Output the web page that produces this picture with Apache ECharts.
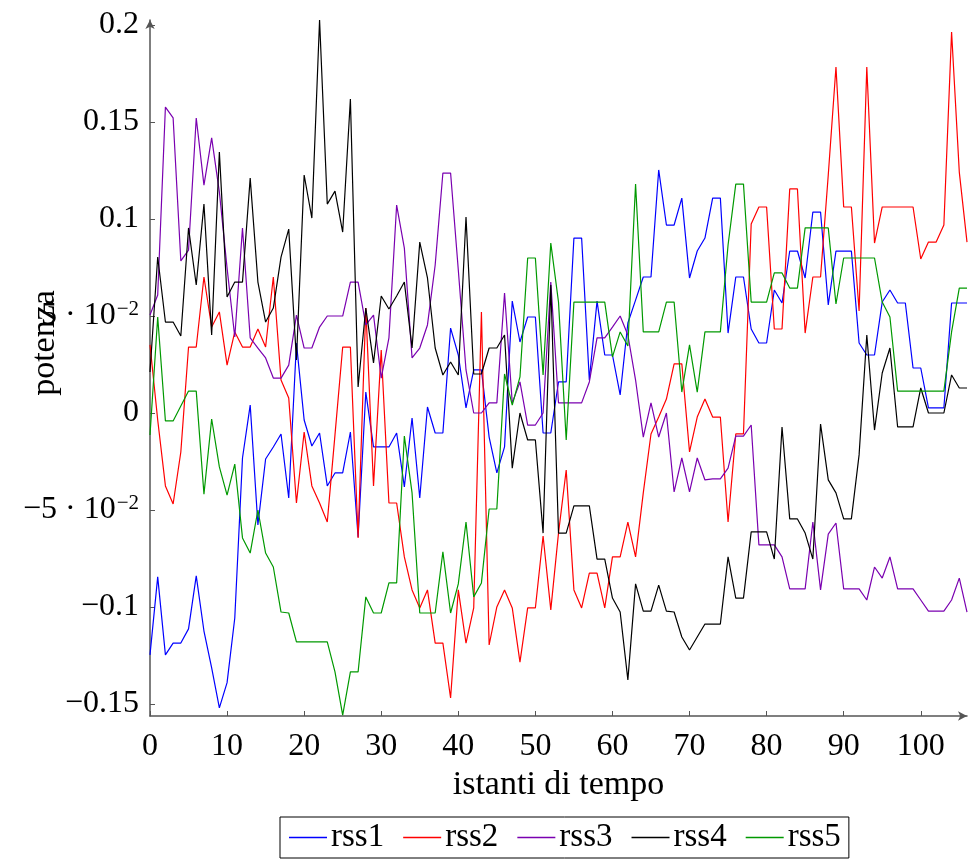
<!DOCTYPE html>
<html>
<head>
<meta charset="utf-8">
<script src="https://cdn.jsdelivr.net/npm/echarts@6/dist/echarts.min.js"></script>
<style>html,body{margin:0;padding:0;background:#fff}#c{width:971px;height:864px}</style>
</head>
<body>
<div id="c"></div>
<script>
const seriesNames = ['rss1', 'rss2', 'rss3', 'rss4', 'rss5'];
const xTicks = [0, 10, 20, 30, 40, 50, 60, 70, 80, 90, 100];
const yTicks = [-0.15, -0.1, -0.05, 0, 0.05, 0.1, 0.15, 0.2];
const xTitle = 'istanti di tempo';
const yTitle = 'potenza';

const rss1 = [-0.1247,-0.0845,-0.1247,-0.1186,-0.1186,-0.1113,-0.084,-0.1124,-0.1314,-0.152,
-0.139,-0.1057,-0.0232,0.0041,-0.0577,-0.0237,-0.0175,-0.0108,-0.0438,0.036,
-0.0036,-0.017,-0.0103,-0.0376,-0.0309,-0.0309,-0.0098,-0.0639,0.0108,-0.0175,
-0.0175,-0.0175,-0.0103,-0.0381,-0.0026,-0.0438,0.0031,-0.0103,-0.0103,0.0438,
0.0299,0.0026,0.0222,0.0222,-0.0124,-0.0309,-0.0175,0.0577,0.0366,0.0495,
0.0495,-0.0103,-0.0103,0.016,0.016,0.0902,0.0902,0.017,0.0577,0.0299,
0.0299,0.0093,0.0464,0.0582,0.0701,0.0701,0.1253,0.0969,0.0969,0.1108,
0.0696,0.0835,0.0902,0.1108,0.1108,0.0412,0.0701,0.0701,0.0433,0.0361,
0.0361,0.0634,0.0567,0.0835,0.0835,0.0696,0.1036,0.1036,0.0557,0.0835,
0.0835,0.0835,0.0361,0.0299,0.0299,0.0572,0.0634,0.0567,0.0567,0.0232,
0.0232,0.0026,0.0026,0.0026,0.0567,0.0567,0.0567];

const rss2 = [0.0351,-0.0036,-0.0376,-0.0469,-0.0201,0.034,0.034,0.0701,0.0443,0.0521,
0.0247,0.0418,0.034,0.034,0.0433,0.034,0.0701,0.017,0.0077,-0.0464,
-0.0098,-0.0376,-0.0464,-0.0562,-0.0113,0.034,0.034,-0.0644,0.0541,-0.0376,
0.0325,-0.0464,-0.0464,-0.0742,-0.0912,-0.1005,-0.0912,-0.1186,-0.1186,-0.1469,
-0.0912,-0.1186,-0.1005,0.0521,-0.1196,-0.1,-0.0912,-0.1005,-0.1284,-0.1005,
-0.1005,-0.0634,-0.1015,-0.0619,-0.0294,-0.0912,-0.1005,-0.0825,-0.0825,-0.1005,
-0.0742,-0.0742,-0.0562,-0.0742,-0.0412,-0.0108,-0.0021,0.0072,0.0253,0.0253,
-0.0201,-0.0021,0.0072,-0.0021,-0.0021,-0.0562,-0.0108,-0.0108,0.0974,0.1062,
0.1062,0.0433,0.0433,0.1155,0.1155,0.0412,0.0701,0.0701,0.1227,0.1784,
0.1062,0.1062,0.0526,0.1784,0.0876,0.1062,0.1062,0.1062,0.1062,0.1062,
0.0794,0.0881,0.0881,0.0969,0.1964,0.1242,0.0881];

const rss3 = [0.0505,0.0608,0.1577,0.1521,0.0784,0.084,0.1521,0.1175,0.1418,0.1139,
0.0747,0.0392,0.0954,0.0387,0.0335,0.0284,0.018,0.018,0.0247,0.0505,
0.0335,0.0335,0.0443,0.05,0.05,0.05,0.0675,0.0675,0.0454,0.0505,
0.018,0.0387,0.1072,0.085,0.0284,0.0335,0.0454,0.0763,0.1237,0.1237,
0.0737,0.0222,0,0,0.0052,0.0052,0.0619,0.0052,0.016,-0.0062,
-0.0062,0,0.0675,0.0052,0.0052,0.0052,0.0052,0.016,0.0387,0.0387,
0.0443,0.05,0.0402,0.017,-0.0124,0.0052,-0.0124,0,-0.0407,-0.0232,
-0.0407,-0.0232,-0.0345,-0.034,-0.034,-0.0284,-0.0119,-0.0119,-0.0062,-0.068,
-0.068,-0.068,-0.0742,-0.0907,-0.0907,-0.0907,-0.0562,-0.0912,-0.0624,-0.0567,
-0.0907,-0.0907,-0.0907,-0.0964,-0.0794,-0.0851,-0.0742,-0.0907,-0.0907,-0.0907,
-0.0964,-0.1021,-0.1021,-0.1021,-0.0964,-0.0851,-0.1026];

const rss4 = [0.0211,0.0804,0.0469,0.0469,0.0397,0.0954,0.066,0.1077,0.0402,0.1345,
0.0598,0.0675,0.0675,0.1211,0.0675,0.0469,0.0541,0.0804,0.0948,0.0273,
0.1227,0.1005,0.2026,0.1077,0.1144,0.0933,0.1619,0.0134,0.0541,0.0258,
0.0603,0.0536,0.0603,0.0675,0.0335,0.0881,0.0696,0.0335,0.0196,0.0263,
0.0196,0.101,0.0201,0.0201,0.0335,0.0335,0.0402,-0.0284,0,-0.0139,
-0.0139,-0.0619,0.066,-0.0619,-0.0619,-0.0479,-0.0479,-0.0479,-0.0753,-0.0753,
-0.0954,-0.1026,-0.1376,-0.0881,-0.1021,-0.1021,-0.0887,-0.1021,-0.1026,-0.1155,
-0.1222,-0.1155,-0.1088,-0.1088,-0.1088,-0.0742,-0.0954,-0.0954,-0.0613,-0.0613,
-0.0613,-0.0753,-0.0072,-0.0546,-0.0546,-0.0619,-0.0753,-0.0057,-0.0345,-0.0412,
-0.0546,-0.0546,-0.0216,0.0402,-0.0088,0.0206,0.0335,-0.0072,-0.0072,-0.0072,
0.0129,0,0,0,0.0196,0.0129,0.0129];

const rss5 = [-0.0113,0.0495,-0.0041,-0.0041,0.0036,0.0113,0.0113,-0.0418,-0.0031,-0.0278,
-0.0423,-0.0263,-0.0644,-0.0722,-0.05,-0.0722,-0.0794,-0.1026,-0.1031,-0.118,
-0.118,-0.118,-0.118,-0.118,-0.1335,-0.1557,-0.1335,-0.1335,-0.0948,-0.1031,
-0.1031,-0.0876,-0.0876,-0.0119,-0.0412,-0.1031,-0.1031,-0.1031,-0.0716,-0.1031,
-0.0881,-0.0562,-0.0948,-0.0876,-0.0495,-0.0495,0.0201,0.0041,0.0186,0.0799,
0.0799,0.0196,0.0876,0.0572,-0.0139,0.0572,0.0572,0.0572,0.0572,0.0572,
0.0289,0.0418,0.0345,0.118,0.0418,0.0418,0.0418,0.0572,0.0572,0.0108,
0.0351,0.0108,0.0418,0.0418,0.0418,0.0866,0.118,0.118,0.0572,0.0572,
0.0572,0.0722,0.0722,0.0644,0.0644,0.0954,0.0954,0.0954,0.0954,0.0562,
0.0799,0.0799,0.0799,0.0799,0.0799,0.0572,0.0495,0.0113,0.0113,0.0113,
0.0113,0.0113,0.0113,0.0113,0.0418,0.0644,0.0644];

const allData = [rss1, rss2, rss3, rss4, rss5];
const colors = ['#0000ff', '#ff0000', '#7a00b0', '#000000', '#009900'];
const FONT = 'Liberation Serif';

function yLabel(v) {
  const r = Math.round(v * 100) / 100;
  if (Math.abs(r - 0.05) < 1e-9) return '{n|5 · 10}{s|−2}';
  if (Math.abs(r + 0.05) < 1e-9) return '{n|−5 · 10}{s|−2}';
  if (r === 0) return '{n|0}';
  return '{n|' + String(r).replace('-', '−') + '}';
}

const chart = echarts.init(document.getElementById('c'), null, {renderer: 'canvas'});
chart.setOption({
  animation: false,
  backgroundColor: '#fff',
  color: colors,
  textStyle: {fontFamily: FONT},
  grid: {left: 150, right: 4, top: 20, bottom: 148, containLabel: false, outerBoundsMode: 'none'},
  graphic: [{
    type: 'text', x: 45, y: 343, rotation: Math.PI / 2, z: 100,
    style: {text: yTitle, fill: '#000', font: '34px "Liberation Serif"', align: 'center', verticalAlign: 'middle'}
  }],
  legend: {
    data: seriesNames,
    left: 280, top: 817,
    orient: 'horizontal',
    icon: 'rect',
    borderColor: '#000', borderWidth: 1, borderRadius: 0,
    padding: [4, 8, 4, 9],
    itemGap: 19, itemWidth: 38, itemHeight: 1.5,
    textStyle: {fontFamily: FONT, fontSize: 33, color: '#000', padding: [0, 0, 0, -1]}
  },
  xAxis: {
    type: 'value', min: 0, max: 106,
    name: xTitle, nameLocation: 'middle', nameGap: 44,
    nameTextStyle: {fontFamily: FONT, fontSize: 34, color: '#000'},
    axisLine: {show: true, onZero: false, lineStyle: {color: '#555', width: 1.5}, symbol: ['none', 'arrow'], symbolSize: [7, 9]},
    axisTick: {show: true, inside: true, length: 5, lineStyle: {color: '#555'}, customValues: xTicks},
    axisLabel: {customValues: xTicks, fontFamily: FONT, fontSize: 32, color: '#000', margin: 15},
    splitLine: {show: false}
  },
  yAxis: {
    type: 'value', min: -0.1562, max: 0.2026,
    axisLine: {show: true, onZero: false, lineStyle: {color: '#555', width: 1.5}, symbol: ['none', 'arrow'], symbolSize: [7, 9]},
    axisTick: {show: true, inside: true, length: 5, lineStyle: {color: '#555'}, customValues: yTicks},
    axisLabel: {
      customValues: yTicks, margin: 11, formatter: yLabel,
      rich: {
        n: {fontFamily: FONT, fontSize: 32, color: '#000'},
        s: {fontFamily: FONT, fontSize: 21, color: '#000', verticalAlign: 'top', padding: [0, 0, 14, 1]}
      }
    },
    splitLine: {show: false}
  },
  series: allData.map((arr, k) => ({
    name: seriesNames[k], type: 'line', symbol: 'none',
    lineStyle: {width: 1.2, color: colors[k]},
    itemStyle: {color: colors[k]},
    data: arr.map((v, i) => [i, v])
  }))
});
</script>
</body>
</html>
